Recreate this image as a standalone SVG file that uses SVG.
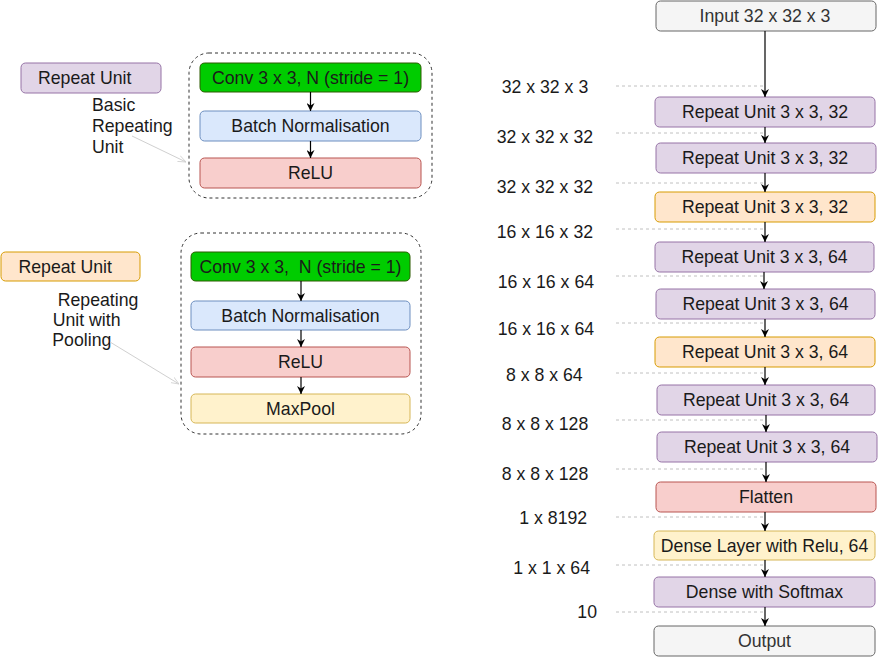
<svg xmlns="http://www.w3.org/2000/svg" width="878" height="657" viewBox="0 0 878 657">
<style>
text{font-family:"Liberation Sans",Arial,sans-serif;font-size:17.7px;fill:#1a1a1a}
.c{text-anchor:middle}
.pu rect{fill:#e1d5e7;stroke:#9673a6}
.or rect{fill:#ffe6cc;stroke:#d79b00}
.gy rect{fill:#f5f5f5;stroke:#666}
.gy text{fill:#333}
.gr rect{fill:#00cc00;stroke:#2d5a00}
.bl rect{fill:#dae8fc;stroke:#6c8ebf}
.rd rect{fill:#f8cecc;stroke:#b85450}
.yl rect{fill:#fff2cc;stroke:#d6b656}
.cont{fill:none;stroke:#333;stroke-dasharray:3 3}
.arr line{stroke:#000;stroke-width:1.2;marker-end:url(#a)}
.dash line{stroke:#c0c0c0;stroke-dasharray:3 3}
.note{stroke:#d0d0d0;marker-end:url(#g)}
</style>
<defs>
<marker id="a" viewBox="0 0 10 10" refX="10" refY="5" markerWidth="8" markerHeight="8" markerUnits="userSpaceOnUse" orient="auto"><path d="M0,0 L10,5 L0,10 L3,5 z" fill="#000"/></marker>
<marker id="g" viewBox="0 0 10 10" refX="10" refY="5" markerWidth="8" markerHeight="8" markerUnits="userSpaceOnUse" orient="auto"><path d="M0,1 L10,5 L0,9" fill="none" stroke="#d0d0d0"/></marker>
</defs>

<!-- legend left -->
<g id="legend-basic" class="pu"><rect x="21" y="63" width="140" height="30" rx="4.5"/><text x="38" y="84.3">Repeat Unit</text></g>
<g id="legend-pool" class="or"><rect x="1" y="252" width="139" height="29" rx="4.5"/><text x="18.5" y="272.8">Repeat Unit</text></g>

<g id="label-basic"><text x="92" y="111.3">Basic</text><text x="92" y="132.3">Repeating</text><text x="92" y="153">Unit</text></g>
<g id="label-pool"><text x="57.7" y="305.6">Repeating</text><text x="52.7" y="326.3">Unit with</text><text x="52.3" y="346.3">Pooling</text></g>

<g id="container-basic"><rect class="cont" x="189" y="53" width="243" height="145" rx="20"/></g>
<g id="b-conv" class="gr"><rect x="200" y="63" width="221" height="29" rx="4.5"/><text class="c" x="310.5" y="83.8">Conv 3 x 3, N (stride = 1)</text></g>
<g id="b-bn" class="bl"><rect x="200" y="111" width="221" height="30" rx="4.5"/><text class="c" x="310.5" y="132.3">Batch Normalisation</text></g>
<g id="b-relu" class="rd"><rect x="200" y="158" width="221" height="30" rx="4.5"/><text class="c" x="310.5" y="179.3">ReLU</text></g>

<g id="container-pool"><rect class="cont" x="181" y="233" width="240" height="201" rx="20"/></g>
<g id="p-conv" class="gr"><rect x="191" y="252" width="219" height="29" rx="4.5"/><text class="c" x="300.5" y="272.8" xml:space="preserve">Conv 3 x 3,  N (stride = 1)</text></g>
<g id="p-bn" class="bl"><rect x="191" y="301" width="219" height="29" rx="4.5"/><text class="c" x="300.5" y="321.8">Batch Normalisation</text></g>
<g id="p-relu" class="rd"><rect x="191" y="347" width="219" height="30" rx="4.5"/><text class="c" x="300.5" y="368.3">ReLU</text></g>
<g id="p-pool" class="yl"><rect x="191" y="394" width="219" height="29" rx="4.5"/><text class="c" x="300.5" y="414.8">MaxPool</text></g>

<!-- right column -->
<g id="input" class="gy"><rect x="656" y="1" width="220" height="30" rx="4.5"/><text class="c" x="765" y="22.3">Input 32 x 32 x 3</text></g>
<g id="ru1" class="pu"><rect x="655" y="97" width="220" height="30" rx="4.5"/><text class="c" x="765" y="118.3">Repeat Unit 3 x 3, 32</text></g>
<g id="ru2" class="pu"><rect x="656" y="143" width="220" height="30" rx="4.5"/><text class="c" x="765" y="164.3">Repeat Unit 3 x 3, 32</text></g>
<g id="ru3" class="or"><rect x="655" y="192" width="220" height="30" rx="4.5"/><text class="c" x="765" y="213.3">Repeat Unit 3 x 3, 32</text></g>
<g id="ru4" class="pu"><rect x="655" y="242" width="219" height="30" rx="4.5"/><text class="c" x="764.5" y="263.3">Repeat Unit 3 x 3, 64</text></g>
<g id="ru5" class="pu"><rect x="656" y="289" width="219" height="30" rx="4.5"/><text class="c" x="765.5" y="310.3">Repeat Unit 3 x 3, 64</text></g>
<g id="ru6" class="or"><rect x="655" y="337" width="220" height="30" rx="4.5"/><text class="c" x="765" y="358.3">Repeat Unit 3 x 3, 64</text></g>
<g id="ru7" class="pu"><rect x="657" y="385" width="218" height="30" rx="4.5"/><text class="c" x="766" y="406.3">Repeat Unit 3 x 3, 64</text></g>
<g id="ru8" class="pu"><rect x="657" y="432" width="220" height="30" rx="4.5"/><text class="c" x="767" y="453.3">Repeat Unit 3 x 3, 64</text></g>
<g id="flatten" class="rd"><rect x="656" y="482" width="220" height="30" rx="4.5"/><text class="c" x="766" y="503.3">Flatten</text></g>
<g id="dense-relu" class="yl"><rect x="654" y="531" width="221" height="29" rx="4.5"/><text class="c" x="764.5" y="551.8">Dense Layer with Relu, 64</text></g>
<g id="dense-softmax" class="pu"><rect x="654" y="577" width="221" height="30" rx="4.5"/><text class="c" x="764.5" y="598.3">Dense with Softmax</text></g>
<g id="output" class="gy"><rect x="654" y="626" width="221" height="30" rx="4.5"/><text class="c" x="764.5" y="647.3">Output</text></g>

<g id="dims">
<text x="501.7" y="92.6">32 x 32 x 3</text>
<text x="496.7" y="143">32 x 32 x 32</text>
<text x="496.7" y="193">32 x 32 x 32</text>
<text x="496.7" y="238">16 x 16 x 32</text>
<text x="497.7" y="288">16 x 16 x 64</text>
<text x="497.7" y="334.7">16 x 16 x 64</text>
<text x="506" y="381.3">8 x 8 x 64</text>
<text x="501.7" y="430.3">8 x 8 x 128</text>
<text x="501.7" y="479.7">8 x 8 x 128</text>
<text x="519.3" y="523.7">1 x 8192</text>
<text x="513.3" y="573.7">1 x 1 x 64</text>
<text x="577.3" y="618">10</text>
</g>

<g id="connectors">
<g class="dash">
<line x1="616" y1="86" x2="763" y2="86"/>
<line x1="616" y1="133" x2="763" y2="133"/>
<line x1="616" y1="183" x2="763" y2="183"/>
<line x1="616" y1="229" x2="763" y2="229"/>
<line x1="616" y1="276" x2="763" y2="276"/>
<line x1="616" y1="323" x2="763" y2="323"/>
<line x1="616" y1="373" x2="763" y2="373"/>
<line x1="616" y1="420" x2="763" y2="420"/>
<line x1="616" y1="469" x2="763" y2="469"/>
<line x1="616" y1="517" x2="763" y2="517"/>
<line x1="616" y1="565" x2="763" y2="565"/>
<line x1="616" y1="612" x2="763" y2="612"/>
</g>
<g class="arr">
<line x1="765" y1="31" x2="765" y2="97"/>
<line x1="765" y1="127" x2="765" y2="143"/>
<line x1="765" y1="173" x2="765" y2="192"/>
<line x1="765" y1="222" x2="765" y2="242"/>
<line x1="764" y1="272" x2="764" y2="289"/>
<line x1="765" y1="319" x2="765" y2="337"/>
<line x1="765" y1="367" x2="765" y2="385"/>
<line x1="766" y1="415" x2="766" y2="432"/>
<line x1="766" y1="462" x2="766" y2="482"/>
<line x1="765" y1="512" x2="765" y2="531"/>
<line x1="765" y1="560" x2="765" y2="577"/>
<line x1="765" y1="607" x2="765" y2="626"/>
<line x1="310.5" y1="92" x2="310.5" y2="111"/>
<line x1="310.5" y1="141" x2="310.5" y2="158"/>
<line x1="301" y1="281" x2="301" y2="301"/>
<line x1="301" y1="330" x2="301" y2="347"/>
<line x1="301" y1="377" x2="301" y2="394"/>
</g>
<line class="note" x1="132" y1="136" x2="186" y2="162"/>
<line class="note" x1="110" y1="342" x2="179" y2="384"/>
</g>
</svg>
